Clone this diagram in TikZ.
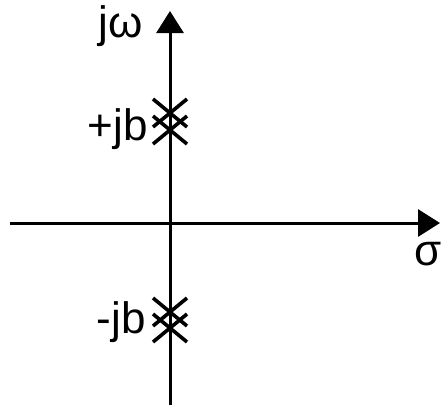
\documentclass[tikz,border=0pt]{standalone}
\usepackage{fontspec}
\setmainfont{Liberation Sans}
\usetikzlibrary{arrows.meta}
\begin{document}
\begin{tikzpicture}[x=1pt,y=-1pt,
  axis/.style={line width=3pt,-{Triangle[length=22pt,width=27pt]}},
  polex/.style={line width=3.6pt},
  lbl/.style={inner sep=0pt,font=\fontsize{44}{48}\selectfont}]
\useasboundingbox (0,0) rectangle (444,405);
\coordinate (left) at (10,223);
\coordinate (right) at (440,223);
\coordinate (bottom) at (170,405);
\coordinate (top) at (170,11);
\draw[axis] (left) -- (right);
\draw[axis] (bottom) -- (top);
% double pole marks
\foreach \n/\y in {pa/113,pb/130,qa/312,qb/328}{
  \coordinate (\n) at (170,\y);
  \draw[polex] ([shift={(-17,-14)}]\n) -- ([shift={(17,14)}]\n)
               ([shift={(-17,14)}]\n) -- ([shift={(17,-14)}]\n);
}
\node[lbl,anchor=base east] (jw) at (143,37) {j\char"03C9};
\node[lbl,anchor=base east] (pjb) at (148,140) {+jb};
\node[lbl,anchor=base east] (mjb) at (146,333) {-jb};
\node[lbl,anchor=base west] (sig) at (414,265) {\char"03C3};
\end{tikzpicture}
\end{document}
